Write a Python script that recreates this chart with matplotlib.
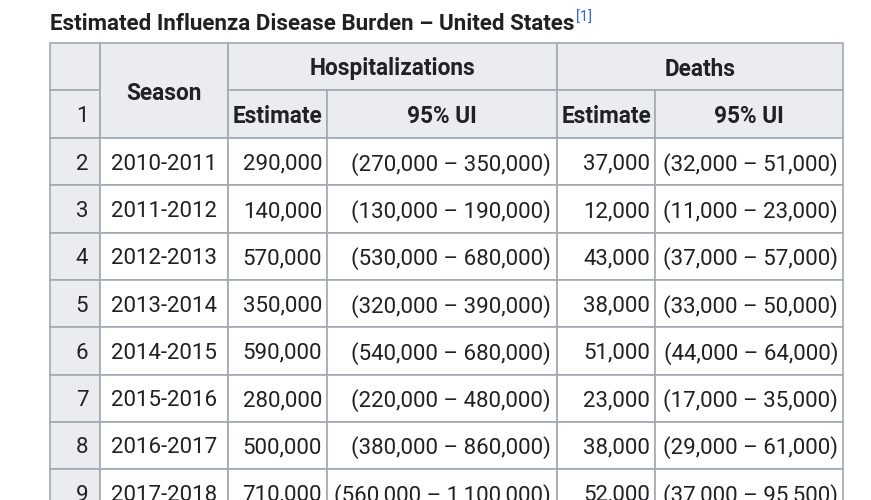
import matplotlib.pyplot as plt
from matplotlib.patches import Rectangle

seasons = ["2010-2011", "2011-2012", "2012-2013", "2013-2014",
           "2014-2015", "2015-2016", "2016-2017", "2017-2018"]
hosp_est = [290000, 140000, 570000, 350000, 590000, 280000, 500000, 710000]
hosp_lo = [270000, 130000, 530000, 320000, 540000, 220000, 380000, 560000]
hosp_hi = [350000, 190000, 680000, 390000, 680000, 480000, 860000, 1100000]
death_est = [37000, 12000, 43000, 38000, 51000, 23000, 38000, 52000]
death_lo = [32000, 11000, 37000, 33000, 44000, 17000, 29000, 37000]
death_hi = [51000, 23000, 57000, 50000, 64000, 35000, 61000, 95500]

TITLE = "Estimated Influenza Disease Burden \u2013 United States"

plt.rcParams['font.family'] = ['Roboto', 'DejaVu Sans']
TXT = '#202122'
HEAD_BG = '#eaecf0'
BORDER = '#a2a9b1'
FS = 16.0
FSB = 16.3
DY = 2.5  # nudge text down a bit to sit like the reference

fig = plt.figure(figsize=(8.71, 5.0), dpi=100)
ax = fig.add_axes([0, 0, 1, 1])
ax.set_xlim(0, 871)
ax.set_ylim(500, 0)
ax.axis('off')

# column edges and row geometry (pixels)
xs = [50, 100, 228, 327, 557, 655, 843]
top, mid, hdr_bot = 43, 90, 138
row_h = 47.3


def cell(x0, x1, y0, y1, bg):
    ax.add_patch(Rectangle((x0, y0), x1 - x0, y1 - y0, facecolor=bg,
                           edgecolor=BORDER, lw=1.2))


# header cells
cell(xs[0], xs[1], top, mid, HEAD_BG)
cell(xs[0], xs[1], mid, hdr_bot, HEAD_BG)
cell(xs[1], xs[2], top, hdr_bot, HEAD_BG)
cell(xs[2], xs[4], top, mid, HEAD_BG)
cell(xs[4], xs[6], top, mid, HEAD_BG)
for i in range(2, 6):
    cell(xs[i], xs[i + 1], mid, hdr_bot, HEAD_BG)

ax.text(82, (mid + hdr_bot) / 2 + DY, "1", ha='center', va='center', fontsize=FS, color=TXT)
ax.text((xs[1] + xs[2]) / 2, (top + hdr_bot) / 2 + DY, "Season", ha='center', va='center',
        fontsize=FSB, fontweight='bold', color=TXT)
ax.text((xs[2] + xs[4]) / 2, (top + mid) / 2 + DY, "Hospitalizations", ha='center', va='center',
        fontsize=FSB, fontweight='bold', color=TXT)
ax.text((xs[4] + xs[6]) / 2, (top + mid) / 2 + DY, "Deaths", ha='center', va='center',
        fontsize=FSB, fontweight='bold', color=TXT)
for i, lab in zip(range(2, 6), ["Estimate", "95% UI", "Estimate", "95% UI"]):
    ax.text((xs[i] + xs[i + 1]) / 2, (mid + hdr_bot) / 2 + DY, lab, ha='center', va='center',
            fontsize=FSB, fontweight='bold', color=TXT)

# body rows
for r, season in enumerate(seasons):
    y0 = hdr_bot + r * row_h
    y1 = y0 + row_h
    yc = (y0 + y1) / 2 + DY
    cell(xs[0], xs[1], y0, y1, HEAD_BG)
    for i in range(1, 6):
        cell(xs[i], xs[i + 1], y0, y1, 'white')
    ax.text(82, yc, str(r + 2), ha='center', va='center', fontsize=FS, color=TXT)
    ax.text((xs[1] + xs[2]) / 2, yc, season, ha='center', va='center', fontsize=FS, color=TXT)
    ax.text(xs[3] - 5, yc, f"{hosp_est[r]:,}", ha='right', va='center', fontsize=FS, color=TXT)
    ax.text(xs[4] - 6, yc, f"({hosp_lo[r]:,} \u2013 {hosp_hi[r]:,})", ha='right', va='center',
            fontsize=FS, color=TXT)
    ax.text(xs[5] - 5, yc, f"{death_est[r]:,}", ha='right', va='center', fontsize=FS, color=TXT)
    ax.text(xs[6] - 5, yc, f"({death_lo[r]:,} \u2013 {death_hi[r]:,})", ha='right', va='center',
            fontsize=FS, color=TXT)

# title with reference mark
t = ax.text(50, 24, TITLE, ha='left', va='center', fontsize=16.1, fontweight='bold', color=TXT)
fig.canvas.draw()
bb = t.get_window_extent()
ax.text(bb.x1 + 1, 18, "[1]", ha='left', va='center', fontsize=10.5, color='#3366cc')

fig.savefig("out.png", dpi=100)
